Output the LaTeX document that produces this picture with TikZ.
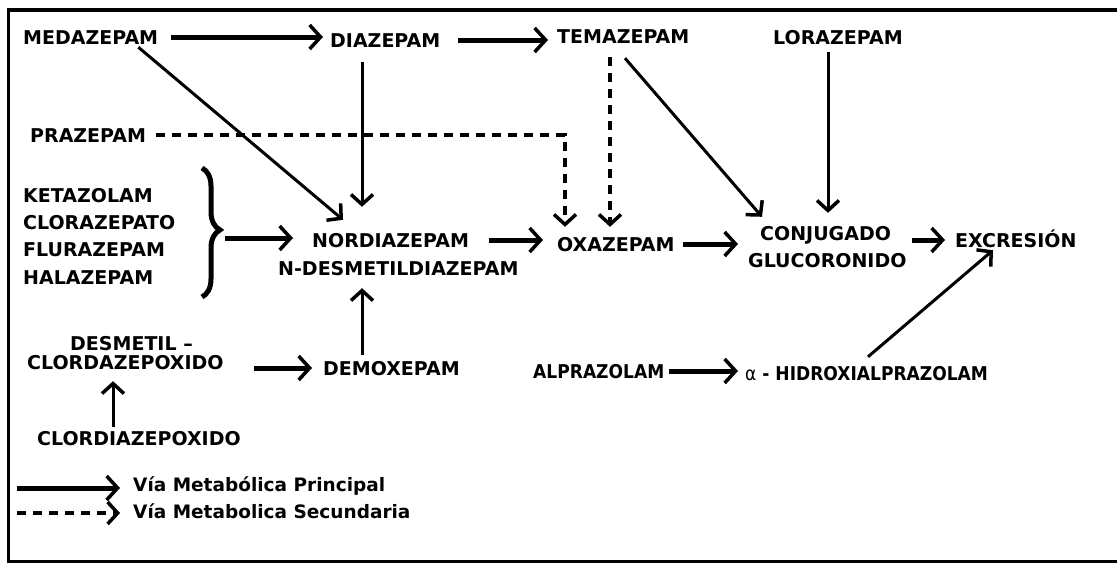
\documentclass[tikz,border=0pt]{standalone}
\usepackage{fontspec}
\setmainfont{DejaVu Sans}
\newfontfamily\condfont{DejaVu Sans Condensed}
\usetikzlibrary{arrows.meta,decorations.pathreplacing}

\begin{document}
\begin{tikzpicture}[x=1pt, y=-1pt,
		drug/.style={font=\fontsize{19}{22}\selectfont\bfseries, text height=14pt, text depth=0pt, inner sep=0pt, anchor=west},
		drugcond/.style={drug, font=\fontsize{19}{22}\selectfont\condfont\bfseries},
		legtext/.style={drug, font=\fontsize{18.5}{22}\selectfont\bfseries},
		mainpath/.style={line width=5pt, -{Straight Barb[length=11pt, width=24pt, line width=3.5pt]}},
		linkpath/.style={line width=3pt, -{Straight Barb[length=10pt, width=22pt, line width=3.5pt]}},
		secpath/.style={line width=4pt, dash pattern=on 9pt off 7pt, -{Straight Barb[length=10pt, width=22pt, line width=3.5pt]}}]

		\useasboundingbox (0, 0) rectangle (1117, 563);

		% frame
		\draw [line width=4.5pt] (7, 10) -- (1117, 10);
		\draw [line width=3pt] (8.5, 10) -- (8.5, 561.5);
		\draw [line width=3pt] (7, 561.5) -- (1117, 561.5);

		% top row
		\node [drug] (meda) at (23, 37) {MEDAZEPAM};
		\node [drug] (diaz) at (330, 40) {DIAZEPAM};
		\node [drug] (tema) at (557, 36) {TEMAZEPAM};
		\node [drug] (lora) at (773, 37) {LORAZEPAM};
		\node [drug] (praz) at (30, 135) {PRAZEPAM};

		% brace group
		\node [drug] (keta) at (23, 195) {KETAZOLAM};
		\node [drug] (cloz) at (23, 222) {CLORAZEPATO};
		\node [drug] (flur) at (23, 249) {FLURAZEPAM};
		\node [drug] (hala) at (23, 277) {HALAZEPAM};
		\draw [line width=5pt, decorate, decoration={brace, amplitude=18pt, aspect=0.48}] (202, 168) -- (202, 297);
		\coordinate (brtip) at (225, 238);

		% middle row
		\node [drug] (nord) at (312, 240) {NORDIAZEPAM};
		\node [drug] (ndes) at (278, 268) {N-DESMETILDIAZEPAM};
		\node [drug] (oxaz) at (557, 244) {OXAZEPAM};
		\node [drug] (conj) at (760, 233) {CONJUGADO};
		\node [drug] (gluc) at (748, 260) {GLUCORONIDO};
		\node [drug] (excr) at (955, 240) {EXCRESIÓN};

		% lower row
		\node [drug] (desm) at (70, 343) {DESMETIL –};
		\node [drug] (cldz) at (27, 362) {CLORDAZEPOXIDO};
		\node [drug] (demo) at (323, 368) {DEMOXEPAM};
		\node [drug] (cldp) at (37, 438) {CLORDIAZEPOXIDO};
		\node [drugcond] (alpr) at (533, 371) {ALPRAZOLAM};
		\node [drugcond] (hidr) at (745, 373) {{\mdseries α} - HIDROXIALPRAZOLAM};

		% main pathway
		\draw [mainpath, shorten <=13pt, shorten >=7pt] (meda.east) -- (meda.east -| diaz.west);
		\draw [mainpath, shorten <=18pt, shorten >=9pt] (diaz.east) -- (diaz.east -| tema.west);
		\draw [mainpath, shorten >=19pt] (brtip) -- (brtip -| nord.west);
		\draw [mainpath, shorten <=20pt, shorten >=14pt] (nord.east) -- (nord.east -| oxaz.west);
		\draw [mainpath, shorten <=8pt, shorten >=22pt] (oxaz.east) -- (oxaz.east -| conj.west);
		\draw [mainpath, shorten <=21pt, shorten >=10pt] ([yshift=-7pt]conj.east) -- (excr.west);
		\draw [mainpath, shorten <=4pt, shorten >=7pt] (alpr.east) -- (alpr.east -| hidr.west);
		\draw [mainpath, shorten <=30pt, shorten >=11pt] (cldz.east |- demo.west) -- (demo.west);

		\draw [linkpath] ([xshift=-20pt, yshift=-3pt]meda.south east) -- ([xshift=31pt, yshift=13pt]nord.north west);
		\draw [linkpath] ([xshift=32pt, yshift=-15pt]diaz.south west) -- ([xshift=50pt, yshift=26pt]nord.north west);
		\draw [linkpath] ([xshift=39pt, yshift=6pt]demo.north west) -- ([xshift=84pt, yshift=-13pt]ndes.south west);
		\draw [linkpath] ([xshift=76pt, yshift=4pt]cldp.north west) -- ([xshift=86pt, yshift=-12pt]cldz.south west);
		\draw [linkpath] ([xshift=68pt, yshift=-15pt]tema.south west) -- ([xshift=2pt, yshift=9pt]conj.north west);
		\draw [linkpath] ([xshift=55pt, yshift=-8pt]lora.south west) -- ([xshift=68pt, yshift=13pt]conj.north west);
		\draw [linkpath] ([xshift=123pt, yshift=9pt]hidr.north west) -- ([xshift=38pt, yshift=-3pt]excr.south west);

		% secondary pathway
		\draw [secpath] ([xshift=10pt]praz.east) -| ([xshift=8pt, yshift=10pt]oxaz.north west);
		\draw [secpath] ([xshift=53pt, yshift=-14pt]tema.south west) -- ([xshift=53pt, yshift=10pt]oxaz.north west);

		% legend
		\node [legtext] (leg1) at (133, 484) {Vía Metabólica Principal};
		\node [legtext] (leg2) at (133, 511) {Vía Metabolica Secundaria};
		\coordinate (legA) at (17, 488);
		\coordinate (legB) at (17, 513);
		\draw [mainpath, shorten >=13pt] (legA) -- (legA -| leg1.west);
		\draw [secpath, shorten >=13pt] (legB) -- (legB -| leg2.west);

\end{tikzpicture}
\end{document}
